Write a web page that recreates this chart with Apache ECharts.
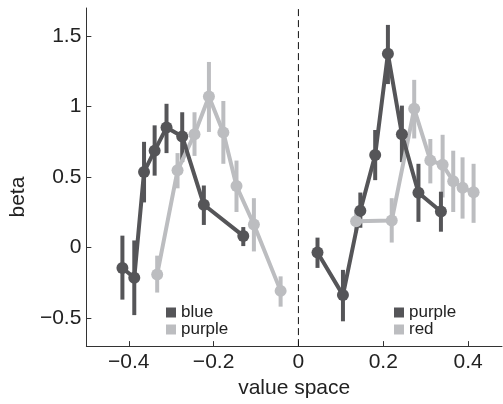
<!DOCTYPE html>
<html>
<head>
<meta charset="utf-8">
<script src="https://cdn.jsdelivr.net/npm/echarts@6/dist/echarts.min.js"></script>
<style>
  html, body { margin: 0; padding: 0; background: #fff; }
  #chart { width: 503px; height: 404px; }
</style>
</head>
<body>
<div id="chart"></div>
<script>
// left panel: blue (dark) and purple (light)
const blueX = [-0.415, -0.387, -0.364, -0.339, -0.311, -0.274, -0.223, -0.130]
const blueY = [-0.145, -0.215, 0.536, 0.687, 0.851, 0.788, 0.303, 0.082]
const blueLo = [-0.37, -0.48, 0.32, 0.51, 0.67, 0.606, 0.16, 0.01]
const blueHi = [0.084, 0.05, 0.75, 0.867, 1.02, 0.96, 0.44, 0.145]

const purpleLX = [-0.333, -0.285, -0.245, -0.211, -0.177, -0.146, -0.105, -0.042]
const purpleLY = [-0.191, 0.548, 0.804, 1.072, 0.816, 0.436, 0.163, -0.308]
const purpleLLo = [-0.32, 0.42, 0.65, 0.82, 0.594, 0.252, -0.028, -0.42]
const purpleLHi = [-0.058, 0.67, 0.96, 1.317, 1.04, 0.617, 0.35, -0.205]

// right panel: purple (dark) and red (light)
const purpleRX = [0.045, 0.105, 0.146, 0.181, 0.211, 0.244, 0.283, 0.336]
const purpleRY = [-0.035, -0.338, 0.261, 0.657, 1.375, 0.804, 0.389, 0.256]
const purpleRLo = [-0.145, -0.524, 0.14, 0.478, 1.16, 0.606, 0.182, 0.112]
const purpleRHi = [0.07, -0.159, 0.39, 0.834, 1.58, 1.007, 0.594, 0.396]

const redX = [0.136, 0.220, 0.273, 0.311, 0.340, 0.365, 0.387, 0.413]
const redY = [0.186, 0.191, 0.984, 0.618, 0.587, 0.471, 0.424, 0.392]
const redLo = [0.105, 0.035, 0.774, 0.455, 0.355, 0.252, 0.205, 0.175]
const redHi = [0.268, 0.35, 1.19, 0.77, 0.80, 0.687, 0.64, 0.594]

const xTicks = [-0.4, -0.2, 0, 0.2, 0.4]
const yTicks = [-0.5, 0, 0.5, 1, 1.5]
const xMin = -0.5, xMax = 0.48
const yMin = -0.7, yMax = 1.7

const dark = '#555558'
const light = '#bcbdc0'
const font = 'Liberation Sans, Arial, sans-serif'

function fmt(v) {
    return String(v).replace('-', '\u2212')
}

function zip(xs, ys) {
    return xs.map((x, i) => [x, ys[i]])
}

function errorSeries(xs, lo, hi, color) {
    return {
        type: 'custom',
        data: xs.map((x, i) => [x, lo[i], hi[i]]),
        renderItem: function (params, api) {
            let top = api.coord([api.value(0), api.value(2)])
            let bot = api.coord([api.value(0), api.value(1)])
            return {
                type: 'rect',
                shape: { x: top[0] - 2, y: top[1], width: 4, height: bot[1] - top[1] },
                style: { fill: color }
            }
        },
        silent: true
    }
}

function lineSeries(name, xs, ys, color) {
    return {
        name: name,
        type: 'line',
        data: zip(xs, ys),
        symbol: 'circle',
        symbolSize: 12,
        itemStyle: { color: color },
        lineStyle: { color: color, width: 4 },
        silent: true
    }
}

const chart = echarts.init(document.getElementById('chart'))
chart.setOption({
    animation: false,
    textStyle: { fontFamily: font },
    grid: { left: 86, right: 1, top: 8, bottom: 53 },
    legend: [
        {
            data: ['blue', 'purple'],
            orient: 'vertical',
            left: 166, top: 304,
            itemWidth: 10, itemHeight: 10, itemGap: 0,
            padding: 0,
            selectedMode: false,
            icon: 'rect',
            textStyle: { fontSize: 17, lineHeight: 17, color: '#222', fontFamily: font }
        },
        {
            data: ['purple (right)', 'red'],
            orient: 'vertical',
            left: 394, top: 304,
            itemWidth: 10, itemHeight: 10, itemGap: 0,
            padding: 0,
            selectedMode: false,
            icon: 'rect',
            formatter: function (name) { return name === 'purple (right)' ? 'purple' : name },
            textStyle: { fontSize: 17, lineHeight: 17, color: '#222', fontFamily: font }
        }
    ],
    xAxis: {
        type: 'value',
        min: xMin, max: xMax,
        name: 'value space',
        nameLocation: 'middle',
        nameGap: 31,
        nameTextStyle: { fontSize: 21, color: '#222', fontFamily: font },
        axisLine: { onZero: false, lineStyle: { color: '#333', width: 1 } },
        axisTick: { inside: true, length: 5, customValues: xTicks, lineStyle: { color: '#333' } },
        axisLabel: { customValues: xTicks, formatter: fmt, fontSize: 21, color: '#222', margin: 6, fontFamily: font },
        splitLine: { show: false }
    },
    yAxis: {
        type: 'value',
        min: yMin, max: yMax,
        name: 'beta',
        nameLocation: 'middle',
        nameGap: 55,
        nameTextStyle: { fontSize: 21, color: '#222', fontFamily: font, padding: [0, 40, 0, 0] },
        axisLine: { show: true, onZero: false, lineStyle: { color: '#333', width: 1 } },
        axisTick: { show: true, inside: true, length: 5, customValues: yTicks, lineStyle: { color: '#333' } },
        axisLabel: { customValues: yTicks, formatter: fmt, fontSize: 21, color: '#222', margin: 5, fontFamily: font },
        splitLine: { show: false }
    },
    series: [
        {
            // dashed divider at x = 0
            type: 'line',
            data: [[0, yMin], [0, yMax]],
            symbol: 'none',
            silent: true,
            lineStyle: { color: '#111', type: [7, 4], width: 1 }
        },
        errorSeries(purpleLX, purpleLLo, purpleLHi, light),
        lineSeries('purple', purpleLX, purpleLY, light),
        errorSeries(redX, redLo, redHi, light),
        lineSeries('red', redX, redY, light),
        errorSeries(blueX, blueLo, blueHi, dark),
        lineSeries('blue', blueX, blueY, dark),
        errorSeries(purpleRX, purpleRLo, purpleRHi, dark),
        lineSeries('purple (right)', purpleRX, purpleRY, dark)
    ]
})
</script>
</body>
</html>
